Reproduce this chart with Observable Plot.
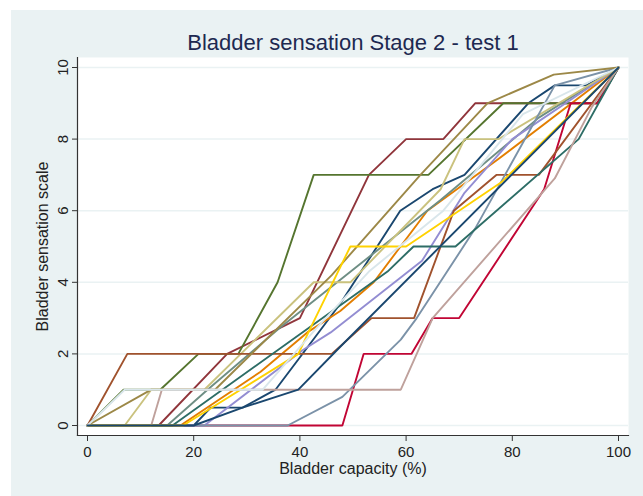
<!DOCTYPE html>
<html>
<head>
<meta charset="utf-8">
<script src="https://cdn.jsdelivr.net/npm/d3@7"></script>
<script src="https://cdn.jsdelivr.net/npm/@observablehq/plot@0.6"></script>
<style>
  html, body { margin: 0; padding: 0; background: #ffffff; }
  #chart { position: absolute; left: 11px; top: 10px; }
</style>
</head>
<body>
<div id="chart"></div>
<script>
// ---- Data ----
const titleText = "Bladder sensation Stage 2 - test 1";
const xTitle = "Bladder capacity (%)";
const yTitle = "Bladder sensation scale";
const xTicks = [0, 20, 40, 60, 80, 100];
const yTicks = [0, 2, 4, 6, 8, 10];

const seriesNames = ["s1","s2","s3","s4","s5","s6","s7","s8","s9","s10","s11","s12","s13","s14","s15","s16"];
const seriesColors = ["#1a476f","#90353b","#55752f","#e37e00","#6e8e84","#c10534","#938dd2","#cac27e",
                      "#a0522d","#7b92a8","#2d6d66","#9c8847","#bfa19c","#ffd200","#d9e6eb","#1a476f"];

const s1x  = [0, 20, 23.2, 29.2, 35.4, 47.6, 58.9, 65, 71, 83, 88, 94, 100];
const s1y  = [0, 0, 0.5, 0.5, 1, 3.4, 6, 6.6, 7, 9, 9.5, 9.5, 10];
const s2x  = [0, 13.4, 26.3, 40, 53, 60, 67, 73, 96, 100];
const s2y  = [0, 0, 2, 3, 7, 8, 8, 9, 9, 10];
const s3x  = [0, 6.8, 13.7, 20.9, 28.4, 35.8, 42.6, 64.2, 78.3, 96, 100];
const s3y  = [0, 1, 1, 2, 2, 4, 7, 7, 9, 9, 10];
const s4x  = [0, 17.5, 32.6, 41.4, 47.6, 53.9, 64, 77, 100];
const s4y  = [0, 0, 1.5, 2.6, 3.2, 4, 6, 7.4, 10];
const s5x  = [0, 15, 22.6, 36, 66.5, 85, 100];
const s5y  = [0, 0, 1, 2.7, 6.3, 8.6, 10];
const s6x  = [0, 48, 52, 61, 65, 70, 86, 91, 96, 100];
const s6y  = [0, 0, 2, 2, 3, 3, 6.6, 9, 9, 10];
const s7x  = [0, 22, 40.5, 45.8, 63, 71, 80, 100];
const s7y  = [0, 0, 2.1, 2.6, 4.6, 6.5, 8, 10];
const s8x  = [0, 7, 12, 22, 42.6, 49.5, 66.5, 71, 77.4, 100];
const s8y  = [0, 0, 1, 1, 4, 4, 6.6, 8, 8, 10];
const s9x  = [0, 7.5, 46, 53.5, 61.5, 69, 77, 85, 100];
const s9y  = [0, 2, 2, 3, 3, 6, 7, 7, 10];
const s10x = [0, 37.7, 48, 59, 62, 73, 88, 100];
const s10y = [0, 0, 0.8, 2.4, 3, 5.5, 9.5, 10];
const s11x = [0, 16, 56.5, 61.4, 69.3, 92.5, 100];
const s11y = [0, 0, 4.3, 5, 5, 8, 10];
const s12x = [0, 12, 24, 46, 62.7, 75.3, 87.8, 100];
const s12y = [0, 1, 1, 4.2, 7, 9, 9.8, 10];
const s13x = [0, 12, 14, 59, 65, 88, 95, 100];
const s13y = [0, 0, 1, 1, 3, 6.9, 8.9, 10];
const s14x = [0, 18, 39.7, 41.6, 49.5, 60, 78, 100];
const s14y = [0, 0, 2, 2.6, 5, 5, 6.8, 10];
const s15x = [0, 7, 33, 43, 53, 67, 82, 100];
const s15y = [0, 1, 1, 2.7, 4.3, 6, 8.7, 10];
const s16x = [0, 20, 29.2, 39.7, 47.6, 100];
const s16y = [0, 0, 0.5, 1, 2.2, 10];

const allX = [s1x,s2x,s3x,s4x,s5x,s6x,s7x,s8x,s9x,s10x,s11x,s12x,s13x,s14x,s15x,s16x];
const allY = [s1y,s2y,s3y,s4y,s5y,s6y,s7y,s8y,s9y,s10y,s11y,s12y,s13y,s14y,s15y,s16y];

const rows = [];
seriesNames.forEach((name, i) => {
  allX[i].forEach((xv, j) => rows.push({s: name, x: xv, y: allY[i][j]}));
});

const font = "'Liberation Sans', Arial, sans-serif";
const axisColor = "#333333";

const chart = Plot.plot({
  width: 632,
  height: 486,
  marginLeft: 66,
  marginRight: 15,
  marginTop: 47,
  marginBottom: 61,
  style: {background: "#eaf2f3", fontFamily: font, fontSize: "15px", overflow: "visible"},
  x: {domain: [0, 100], insetLeft: 10, insetRight: 10},
  y: {domain: [0, 10], insetTop: 10, insetBottom: 10},
  color: {domain: seriesNames, range: seriesColors},
  marks: [
    Plot.frame({fill: "white", stroke: null}),
    Plot.gridY(yTicks, {stroke: "#eaf2f3", strokeOpacity: 1, strokeWidth: 1.5}),
    Plot.line(rows, {x: "x", y: "y", z: "s", stroke: "s", strokeWidth: 1.9, strokeLinejoin: "miter", curve: "linear"}),
    Plot.frame({anchor: "left", stroke: axisColor, strokeWidth: 1.2}),
    Plot.frame({anchor: "bottom", stroke: axisColor, strokeWidth: 1.2}),
    Plot.axisX(xTicks, {tickSize: 6, tickPadding: 5, stroke: axisColor, color: "#222", fontSize: 15, label: null}),
    Plot.axisY(yTicks, {tickSize: 5, tickPadding: 5, tickRotate: -90, stroke: axisColor, color: "#222", fontSize: 15, label: null}),
    Plot.text([xTitle], {frameAnchor: "bottom", dy: 33, lineAnchor: "middle", textAnchor: "middle", fontSize: 16, fill: "#222"}),
    Plot.text([yTitle], {frameAnchor: "left", dx: -35, rotate: -90, lineAnchor: "middle", textAnchor: "middle", fontSize: 16, fill: "#222"}),
    Plot.text([titleText], {frameAnchor: "top", dy: -15, lineAnchor: "middle", textAnchor: "middle", fontSize: 22, fill: "#1d2951"})
  ]
});

document.getElementById("chart").appendChild(chart);
</script>
</body>
</html>
